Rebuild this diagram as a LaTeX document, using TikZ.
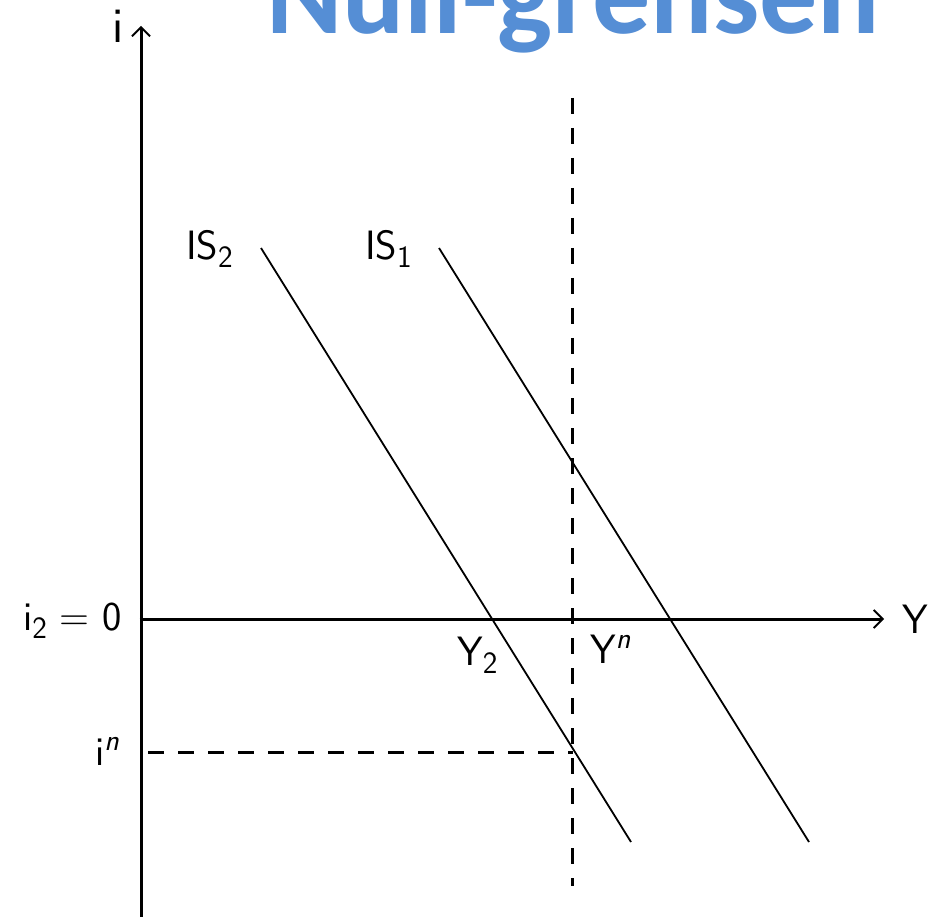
\documentclass[tikz,border=0pt]{standalone}
\usepackage{fontspec}
\newfontfamily\titlefont{Carlito}
\usetikzlibrary{arrows.meta}
\definecolor{titleblue}{RGB}{85,142,213}
\newcommand{\mysub}[1]{\raisebox{-8pt}{\fontsize{31}{36}\selectfont #1}}
\newcommand{\mysupit}[1]{\raisebox{15pt}{\fontsize{30}{36}\selectfont\itshape #1}}
\begin{document}
\begin{tikzpicture}[x=1pt,y=-1pt,
  axis/.style={line width=3pt, -{Straight Barb[length=9pt,width=18pt,line width=1.8pt]}},
  isline/.style={line width=1.8pt},
  dashline/.style={line width=3pt, dash pattern=on 16pt off 14pt},
  lbl/.style={inner sep=0pt, font=\sffamily\fontsize{41}{49}\selectfont}]
\useasboundingbox (0,0) rectangle (932,917);
\clip (0,0) rectangle (932,917);
\fill[white] (0,0) rectangle (932,917);
% title
\node[anchor=base west, inner sep=0pt, text=titleblue, font=\titlefont\bfseries\fontsize{116}{130}\selectfont] (title) at (266,34) {Null-grensen};
% axes
\coordinate (ybot) at (141,920);
\coordinate (ytop) at (141,26);
\coordinate (xstart) at (139.5,619);
\coordinate (xend) at (884,619);
\draw[axis] (ybot) -- (ytop);
\draw[axis] (xstart) -- (xend);
% IS curves
\coordinate (is2a) at (261,248);
\coordinate (is2b) at (631,842);
\coordinate (is1a) at (439,248);
\coordinate (is1b) at (809,842);
\draw[isline] (is2a) -- (is2b);
\draw[isline] (is1a) -- (is1b);
% dashed lines
\coordinate (vtop) at (572,98);
\coordinate (vbot) at (572,886);
\coordinate (hleft) at (148,752);
\coordinate (hright) at (573,752);
\draw[dashline] (vtop) -- (vbot);
\draw[dashline] (hleft) -- (hright);
% labels
\node[lbl, anchor=base west] (ilbl) at (112,43) {\fontsize{50}{60}\selectfont i};
\node[lbl, anchor=base west] (ylbl) at (902,633) {Y};
\node[lbl, anchor=base east] (i2lbl) at (122,630) {i\mysub{2} = 0};
\node[lbl, anchor=base east] (inlbl) at (119,765) {i\mysupit{n}};
\node[lbl, anchor=base west] (is2lbl) at (186,260) {IS\mysub{2}};
\node[lbl, anchor=base west] (is1lbl) at (365,260) {IS\mysub{1}};
\node[lbl, anchor=base west] (y2lbl) at (457,665) {Y\mysub{2}};
\node[lbl, anchor=base west] (ynlbl) at (590,663) {Y\mysupit{n}};
\end{tikzpicture}
\end{document}
